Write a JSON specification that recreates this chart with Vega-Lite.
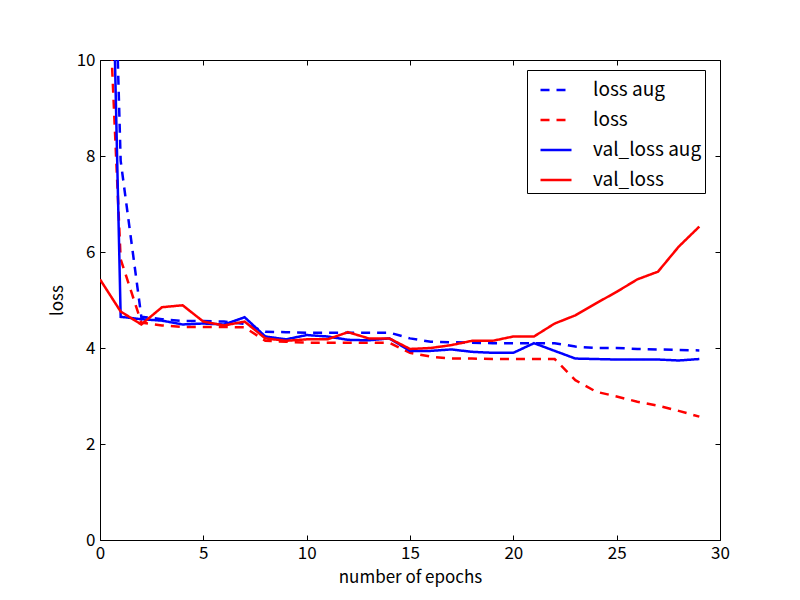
{
  "$schema": "https://vega.github.io/schema/vega-lite/v6.json",
  "width": 620,
  "height": 480,
  "autosize": {"type": "none"},
  "padding": {"left": 100, "top": 60, "right": 80, "bottom": 60},
  "background": "white",
  "config": {
    "font": "Noto Sans CJK JP",
    "view": {"stroke": "black", "strokeWidth": 1},
    "axis": {"grid": false, "domain": false, "tickColor": "black", "tickWidth": 1, "labelColor": "black", "titleColor": "black", "labelFontSize": 17, "titleFontSize": 17, "titleFontWeight": "normal", "labelFont": "Noto Sans CJK JP", "titleFont": "Noto Sans CJK JP", "labelFlush": false, "labelOverlap": false}
  },
  "data": {
    "values": [
      {"epoch": 0, "loss aug": 23, "loss": 15.5, "val_loss aug": 24, "val_loss": 5.43},
      {"epoch": 1, "loss aug": 7.9, "loss": 5.85, "val_loss aug": 4.65, "val_loss": 4.76},
      {"epoch": 2, "loss aug": 4.65, "loss": 4.53, "val_loss aug": 4.6, "val_loss": 4.49},
      {"epoch": 3, "loss aug": 4.6, "loss": 4.47, "val_loss aug": 4.57, "val_loss": 4.85},
      {"epoch": 4, "loss aug": 4.56, "loss": 4.44, "val_loss aug": 4.49, "val_loss": 4.89},
      {"epoch": 5, "loss aug": 4.56, "loss": 4.44, "val_loss aug": 4.51, "val_loss": 4.55},
      {"epoch": 6, "loss aug": 4.55, "loss": 4.44, "val_loss aug": 4.49, "val_loss": 4.47},
      {"epoch": 7, "loss aug": 4.5, "loss": 4.43, "val_loss aug": 4.64, "val_loss": 4.55},
      {"epoch": 8, "loss aug": 4.34, "loss": 4.15, "val_loss aug": 4.24, "val_loss": 4.2},
      {"epoch": 9, "loss aug": 4.33, "loss": 4.13, "val_loss aug": 4.18, "val_loss": 4.15},
      {"epoch": 10, "loss aug": 4.32, "loss": 4.11, "val_loss aug": 4.27, "val_loss": 4.18},
      {"epoch": 11, "loss aug": 4.32, "loss": 4.11, "val_loss aug": 4.24, "val_loss": 4.18},
      {"epoch": 12, "loss aug": 4.32, "loss": 4.11, "val_loss aug": 4.17, "val_loss": 4.33},
      {"epoch": 13, "loss aug": 4.32, "loss": 4.11, "val_loss aug": 4.16, "val_loss": 4.2},
      {"epoch": 14, "loss aug": 4.32, "loss": 4.11, "val_loss aug": 4.2, "val_loss": 4.2},
      {"epoch": 15, "loss aug": 4.2, "loss": 3.9, "val_loss aug": 3.94, "val_loss": 3.98},
      {"epoch": 16, "loss aug": 4.13, "loss": 3.82, "val_loss aug": 3.94, "val_loss": 4.0},
      {"epoch": 17, "loss aug": 4.12, "loss": 3.78, "val_loss aug": 3.97, "val_loss": 4.06},
      {"epoch": 18, "loss aug": 4.11, "loss": 3.78, "val_loss aug": 3.92, "val_loss": 4.15},
      {"epoch": 19, "loss aug": 4.1, "loss": 3.77, "val_loss aug": 3.9, "val_loss": 4.15},
      {"epoch": 20, "loss aug": 4.1, "loss": 3.77, "val_loss aug": 3.9, "val_loss": 4.24},
      {"epoch": 21, "loss aug": 4.1, "loss": 3.77, "val_loss aug": 4.1, "val_loss": 4.24},
      {"epoch": 22, "loss aug": 4.1, "loss": 3.77, "val_loss aug": 3.94, "val_loss": 4.51},
      {"epoch": 23, "loss aug": 4.03, "loss": 3.33, "val_loss aug": 3.78, "val_loss": 4.68},
      {"epoch": 24, "loss aug": 4.0, "loss": 3.09, "val_loss aug": 3.77, "val_loss": 4.93},
      {"epoch": 25, "loss aug": 4.0, "loss": 2.99, "val_loss aug": 3.76, "val_loss": 5.17},
      {"epoch": 26, "loss aug": 3.98, "loss": 2.88, "val_loss aug": 3.76, "val_loss": 5.43},
      {"epoch": 27, "loss aug": 3.97, "loss": 2.8, "val_loss aug": 3.76, "val_loss": 5.59},
      {"epoch": 28, "loss aug": 3.96, "loss": 2.69, "val_loss aug": 3.74, "val_loss": 6.11},
      {"epoch": 29, "loss aug": 3.95, "loss": 2.57, "val_loss aug": 3.77, "val_loss": 6.53}
    ]
  },
  "transform": [
    {"fold": ["loss aug", "loss", "val_loss aug", "val_loss"], "as": ["series", "value"]}
  ],
  "layer": [
    {
      "mark": {"type": "line", "strokeWidth": 2.5, "clip": true},
      "encoding": {
        "x": {"field": "epoch", "type": "quantitative", "scale": {"domain": [0, 30], "nice": false, "zero": false},
              "axis": {"orient": "bottom", "title": "number of epochs", "values": [0, 5, 10, 15, 20, 25, 30], "tickSize": -5, "labelPadding": 10, "titlePadding": 8}},
        "y": {"field": "value", "type": "quantitative", "scale": {"domain": [0, 10], "nice": false, "zero": false},
              "axis": {"orient": "left", "title": "loss", "values": [0, 2, 4, 6, 8, 10], "tickSize": -5, "labelPadding": 10, "titlePadding": 10}},
        "color": {"field": "series", "type": "nominal",
                  "scale": {"domain": ["loss aug", "loss", "val_loss aug", "val_loss"], "range": ["#0000ff", "#ff0000", "#0000ff", "#ff0000"]},
                  "legend": {"title": null, "orient": "none", "legendX": 427, "legendY": 10, "symbolType": "stroke", "symbolSize": 961, "symbolStrokeWidth": 2.5, "symbolOffset": 9, "labelFontSize": 19, "labelFont": "Noto Sans CJK JP", "labelColor": "black", "labelOffset": 20, "padding": 3, "rowPadding": 3, "strokeColor": "black", "fillColor": "white", "cornerRadius": 0}},
        "strokeDash": {"field": "series", "type": "nominal",
                  "scale": {"domain": ["loss aug", "loss", "val_loss aug", "val_loss"], "range": [[9, 7], [9, 7], [1, 0], [1, 0]]},
                  "legend": {"title": null, "orient": "none", "legendX": 427, "legendY": 10, "symbolType": "stroke", "symbolSize": 961, "symbolStrokeWidth": 2.5, "symbolOffset": 9, "labelFontSize": 19, "labelFont": "Noto Sans CJK JP", "labelColor": "black", "labelOffset": 20, "padding": 3, "rowPadding": 3, "strokeColor": "black", "fillColor": "white", "cornerRadius": 0}}
      }
    },
    {
      "mark": {"type": "line", "opacity": 0, "clip": true},
      "encoding": {
        "x": {"field": "epoch", "type": "quantitative", "axis": {"orient": "top", "title": null, "labels": false, "values": [0, 5, 10, 15, 20, 25, 30], "tickSize": -5}},
        "y": {"field": "value", "type": "quantitative", "axis": {"orient": "right", "title": null, "labels": false, "values": [0, 2, 4, 6, 8, 10], "tickSize": -5}}
      }
    }
  ],
  "resolve": {"axis": {"x": "independent", "y": "independent"}}
}
